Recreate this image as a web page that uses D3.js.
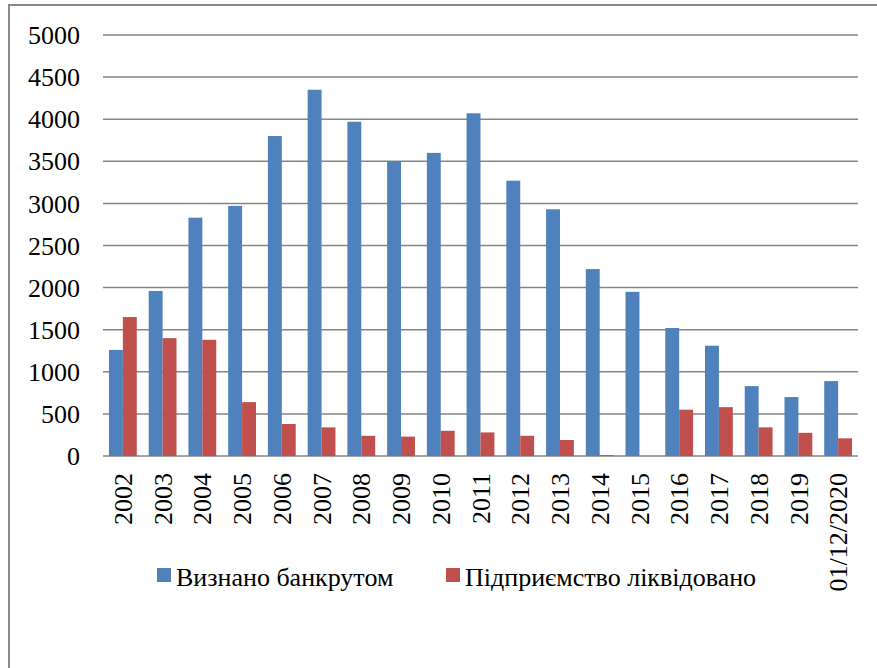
<html>
<head>
<meta charset="UTF-8">
<script src="https://d3js.org/d3.v7.min.js"></script>
</head>
<body style="margin:0">
<svg id="chart" width="877" height="668"></svg>
<script>
// data
var years = ["2002","2003","2004","2005","2006","2007","2008","2009","2010","2011",
             "2012","2013","2014","2015","2016","2017","2018","2019","01/12/2020"];
var bankrupt = [1260,1960,2830,2970,3800,4350,3970,3500,3600,4070,
                3270,2930,2220,1950,1520,1310,830,700,890];
var liquidated = [1650,1400,1380,640,380,340,240,230,300,280,
                  240,190,10,0,550,580,340,275,210];
var seriesNames = ["Визнано банкрутом", "Підприємство ліквідовано"];
var yTicks = [0,500,1000,1500,2000,2500,3000,3500,4000,4500,5000];

var colors = ["#4F81BD", "#C0504D"];
var fontFamily = "Liberation Serif";
var fontSize = 26;

var svg = d3.select("#chart");

// outer frame (only left and top edges visible in the picture)
svg.append("rect")
    .attr("x", 9).attr("y", 5)
    .attr("width", 900).attr("height", 700)
    .attr("fill", "none")
    .attr("stroke", "#8a8a8a")
    .attr("stroke-width", 2);

var plotL = 103, plotR = 858, plotT = 35, plotB = 456;

var x = d3.scaleBand()
    .domain(years)
    .range([plotL, plotR])
    .paddingInner(0.3)
    .paddingOuter(0.15);

var xs = d3.scaleBand()
    .domain([0, 1])
    .range([0, x.bandwidth()]);

var y = d3.scaleLinear()
    .domain([0, 5000])
    .range([plotB, plotT]);

// gridlines
svg.append("g")
    .selectAll("line")
    .data(yTicks)
    .enter().append("line")
    .attr("x1", plotL).attr("x2", plotR)
    .attr("y1", function(d) { return y(d); })
    .attr("y2", function(d) { return y(d); })
    .attr("stroke", "#868686")
    .attr("stroke-width", 1.5);

// y labels
svg.append("g")
    .selectAll("text")
    .data(yTicks)
    .enter().append("text")
    .attr("x", 80)
    .attr("y", function(d) { return y(d); })
    .attr("dy", "0.35em")
    .attr("text-anchor", "end")
    .attr("font-family", fontFamily)
    .attr("font-size", fontSize)
    .text(function(d) { return d; });

// bars
var rows = years.map(function(yr, i) { return { year: yr, vals: [bankrupt[i], liquidated[i]] }; });

var groups = svg.append("g")
    .selectAll("g")
    .data(rows)
    .enter().append("g")
    .attr("transform", function(d) { return "translate(" + x(d.year) + ",0)"; });

groups.selectAll("rect")
    .data(function(d) { return d.vals; })
    .enter().append("rect")
    .attr("x", function(d, i) { return xs(i); })
    .attr("width", xs.bandwidth())
    .attr("y", function(d) { return y(d); })
    .attr("height", function(d) { return y(0) - y(d); })
    .attr("fill", function(d, i) { return colors[i]; });

// x labels, rotated
svg.append("g")
    .selectAll("text")
    .data(years)
    .enter().append("text")
    .attr("transform", function(d) {
        return "translate(" + (x(d) + x.bandwidth() / 2) + ",473) rotate(-90)";
    })
    .attr("dy", "0.35em")
    .attr("text-anchor", "end")
    .attr("font-family", fontFamily)
    .attr("font-size", fontSize)
    .text(function(d) { return d; });

// legend
var legendX = [157, 446];
var legend = svg.append("g")
    .selectAll("g")
    .data(seriesNames)
    .enter().append("g")
    .attr("transform", function(d, i) { return "translate(" + legendX[i] + ",568)"; });

legend.append("rect")
    .attr("width", 14).attr("height", 14)
    .attr("fill", function(d, i) { return colors[i]; });

legend.append("text")
    .attr("x", 19)
    .attr("y", 18)
    .attr("font-family", fontFamily)
    .attr("font-size", fontSize)
    .text(function(d) { return d; });
</script>
</body>
</html>
